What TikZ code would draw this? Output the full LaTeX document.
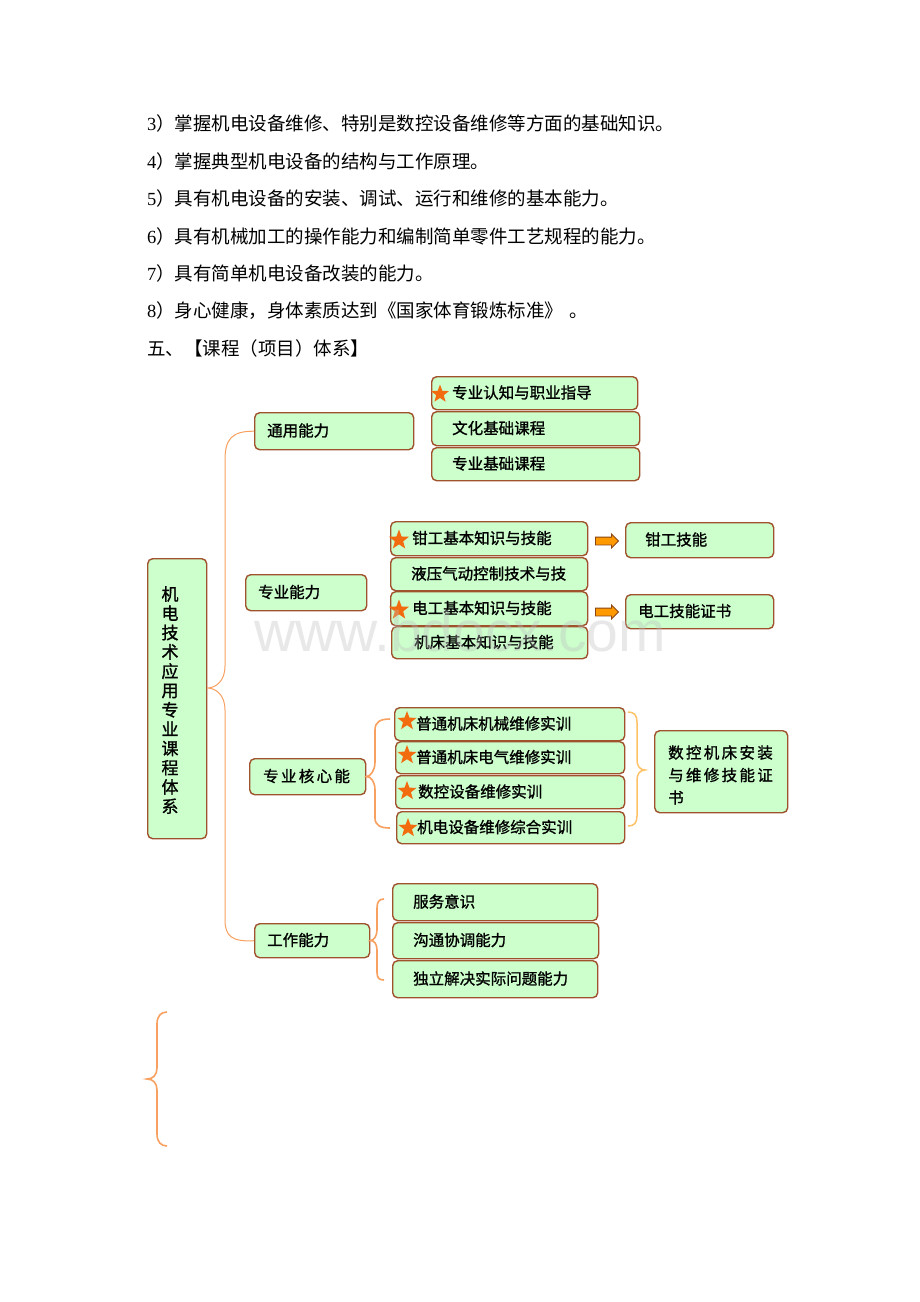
\documentclass[tikz,border=0pt]{standalone}
\usepackage{fontspec}
\setmainfont{Noto Sans CJK SC}
\newfontfamily\tnr{Liberation Serif}
\newfontfamily\wmfont{Liberation Sans}
\newfontfamily\boxfont{Noto Sans CJK SC}[FakeBold=1.2]
\usetikzlibrary{shapes.geometric,shapes.arrows}
\definecolor{boxfill}{HTML}{CCFFCC}
\definecolor{boxline}{HTML}{A0522D}
\definecolor{bracec}{HTML}{F8A060}
\definecolor{rbracec}{HTML}{FFC266}
\definecolor{starc}{HTML}{F26B0F}
\definecolor{arrowc}{HTML}{FF9900}
\definecolor{arrowd}{HTML}{8B4513}
\definecolor{wmark}{HTML}{BFBFBF}
\tikzset{
  box/.style={draw=boxline, fill=boxfill, line width=1.4pt, rounded corners=5pt, inner sep=0pt},
  lbl/.style={inner sep=0pt, font=\boxfont\fontsize{15.5}{18}\selectfont, anchor=west},
  para/.style={inner sep=0pt, font=\fontsize{18.5}{21}\selectfont, anchor=west},
  starn/.style={star, star points=5, star point ratio=2.4, fill=starc, inner sep=0pt, minimum size=19pt},
  blockarrow/.style={single arrow, fill=arrowc, draw=arrowd, line width=0.8pt, inner xsep=0pt, inner ysep=3.5pt, minimum height=23pt, single arrow head extend=3pt},
  bigbrace/.style={draw=bracec, line width=1pt},
  bracel/.style={draw=bracec, line width=1.6pt},
  rbrace/.style={draw=rbracec, line width=1.5pt},
}
\newcommand{\bx}[7]{%
  \node[box, anchor=north west, minimum width={(#4)-(#2)}, minimum height={(#5)-(#3)}] (#1) at (#2,#3) {};
  \node[lbl] (#1t) at (#6,{((#3)+(#5))/2}) {#7};}
\begin{document}
\begin{tikzpicture}[x=1pt,y=-1pt]
\useasboundingbox (0,0) rectangle (920,1302);
\fill[white] (0,0) rectangle (920,1302);

% paragraph text
\node[para] (l3) at (147,123) {{\tnr 3}）掌握机电设备维修、特别是数控设备维修等方面的基础知识。};
\node[para] (l4) at (147,161) {{\tnr 4}）掌握典型机电设备的结构与工作原理。};
\node[para] (l5) at (147,198) {{\tnr 5}）具有机电设备的安装、调试、运行和维修的基本能力。};
\node[para] (l6) at (147,236) {{\tnr 6}）具有机械加工的操作能力和编制简单零件工艺规程的能力。};
\node[para] (l7) at (147,273) {{\tnr 7}）具有简单机电设备改装的能力。};
\node[para] (l8) at (147,311) {{\tnr 8}）身心健康，身体素质达到《国家体育锻炼标准》\hspace{6pt}。};
\node[para] (l9) at (147,348) {五、【课程（项目）体系】};

% main box
\node[box, anchor=north west, minimum width=59pt, minimum height=280pt] (main) at (147,558) {};
\node[inner sep=0pt, align=center, font=\boxfont\fontsize{17}{19.3}\selectfont] (maint) at (170,700)
  {机\\电\\技\\术\\应\\用\\专\\业\\课\\程\\体\\系};

% general ability
\bx{ty}{254}{412}{413}{449}{267}{通用能力}
\bx{g1}{431}{376}{637}{409}{452}{专业认知与职业指导}
\bx{g2}{431}{411}{639}{445}{452}{文化基础课程}
\bx{g3}{431}{447}{639}{480}{452}{专业基础课程}
\node[starn, minimum size=19pt] (s1) at (440,394) {};

% professional ability
\bx{zy}{245}{574}{366}{610}{258}{专业能力}
\bx{z1}{390}{521}{587}{555}{412}{钳工基本知识与技能}
\bx{z2}{390}{557}{587}{590}{411}{液压气动控制技术与技}
\bx{z3}{390}{591}{587}{625}{412}{电工基本知识与技能}
\bx{z4}{391}{626}{587}{658}{414}{机床基本知识与技能}
\node[starn, minimum size=21pt] (s2) at (399,540) {};
\node[starn, minimum size=21pt] (s3) at (399,610) {};
\bx{c1}{625}{522}{773}{557}{645}{钳工技能}
\bx{c2}{625}{594}{773}{628}{638}{电工技能证书}
\node[blockarrow] (a1) at (605,541) {};
\node[blockarrow] (a2) at (605,612) {};

% core ability
\bx{hx}{249}{758}{365}{794}{263}{\addfontfeatures{LetterSpace=15}专业核心能}
\bx{h1}{394}{707}{624}{740}{416}{普通机床机械维修实训}
\bx{h2}{395}{741}{624}{773}{416}{普通机床电气维修实训}
\bx{h3}{395}{775}{624}{808}{418}{数控设备维修实训}
\bx{h4}{396}{811}{624}{843}{417}{机电设备维修综合实训}
\node[starn, minimum size=20pt] (s4) at (407,721) {};
\node[starn, minimum size=20pt] (s5) at (407,755) {};
\node[starn, minimum size=20pt] (s6) at (407,791) {};
\node[starn, minimum size=20pt] (s7) at (408,828) {};
\node[box, anchor=north west, minimum width=133pt, minimum height=82pt] (cert) at (654,730) {};
\node[lbl, align=left, font=\boxfont\fontsize{15.5}{22.5}\selectfont\addfontfeatures{LetterSpace=15}] (certt) at (668,775)
  {数控机床安装\\与维修技能证\\书};

% work ability
\bx{gz}{254}{923}{369}{957}{267}{工作能力}
\bx{w1}{392}{883}{597}{920}{413}{服务意识}
\bx{w2}{392}{922}{598}{958}{413}{沟通协调能力}
\bx{w3}{392}{960}{597}{997}{413}{独立解决实际问题能力}

% braces
\coordinate (tip) at (207,688);
\draw[bigbrace] (ty.west) .. controls (231,431) and (225,440) .. (225,460) -- (225,666)
  .. controls (225,681) and (216,688) .. (tip)
  .. controls (216,688) and (225,695) .. (225,710) -- (225,920)
  .. controls (225,936) and (232,942) .. (gz.west);

\coordinate (cb1) at (390,719);
\coordinate (cb2) at (390,828);
\draw[bracel] (cb1) .. controls (380,719) and (375,722) .. (375,730) -- (375,762)
  .. controls (375,770) and (371,776) .. (hx.east)
  .. controls (371,776) and (375,782) .. (375,790) -- (375,818)
  .. controls (375,825) and (380,828) .. (cb2);

\coordinate (rb1) at (628,712);
\coordinate (rb2) at (628,826);
\coordinate (rbt) at (645,770);
\draw[rbrace] (rb1) .. controls (634,712) and (637,715) .. (637,722) -- (637,760)
  .. controls (637,766) and (640,770) .. (rbt)
  .. controls (640,770) and (637,774) .. (637,780) -- (637,816)
  .. controls (637,823) and (634,826) .. (rb2);

\coordinate (wb1) at (384,899);
\coordinate (wb2) at (384,980);
\draw[bracel] (wb1) .. controls (379,899) and (377,902) .. (377,908) -- (377,930)
  .. controls (377,936) and (374,940) .. (gz.east)
  .. controls (374,940) and (377,944) .. (377,950) -- (377,972)
  .. controls (377,978) and (379,980) .. (wb2);

\coordinate (bb1) at (167,1012);
\coordinate (bb2) at (167,1146);
\coordinate (bbt) at (147,1079);
\draw[bracel] (bb1) .. controls (161,1012) and (157,1016) .. (157,1024) -- (157,1068)
  .. controls (157,1075) and (153,1079) .. (bbt)
  .. controls (153,1079) and (157,1083) .. (157,1090) -- (157,1134)
  .. controls (157,1142) and (161,1146) .. (bb2);

% watermark
\node[anchor=base, inner sep=0pt, text=wmark, opacity=0.35, font=\wmfont\fontsize{57}{60}\selectfont] (wm) at (460,651) {www.bdocx.com};
\end{tikzpicture}
\end{document}
